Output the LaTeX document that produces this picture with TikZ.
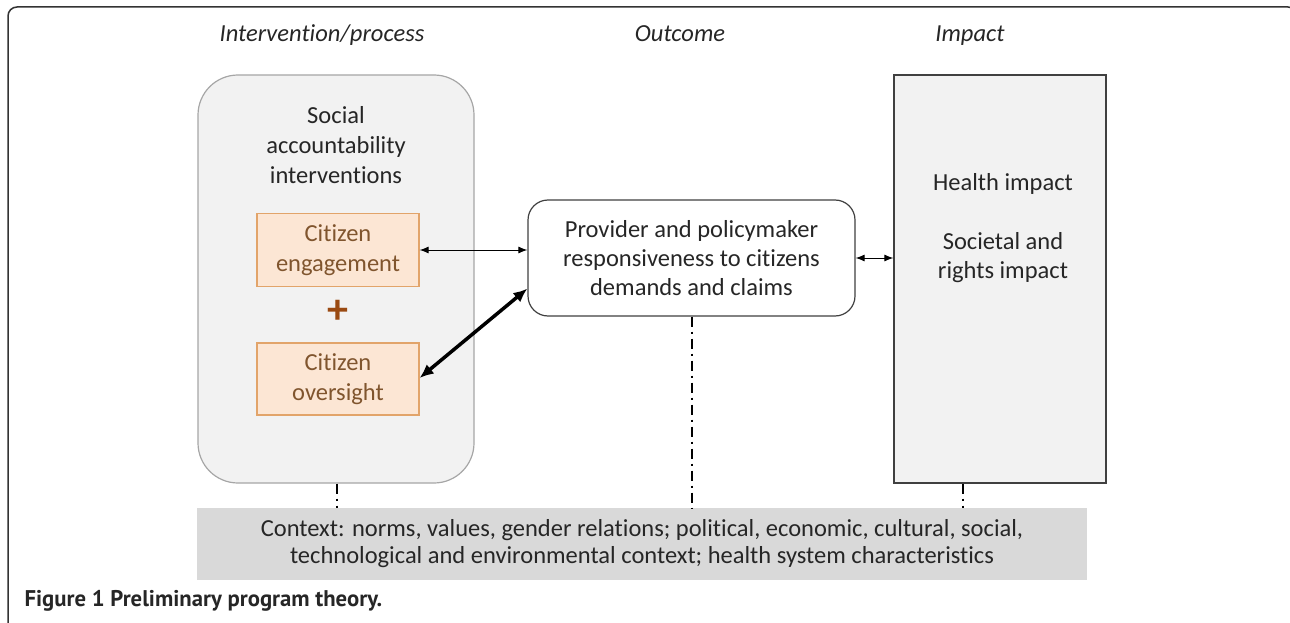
\documentclass[tikz,border=0pt]{standalone}
\usepackage{fontspec}
\setmainfont[Ligatures=NoCommon]{Carlito}
\newfontfamily\condfont[Ligatures=NoCommon]{Carlito}
\newfontfamily\capfont{PT Sans}
\usetikzlibrary{positioning,calc,arrows.meta}
\definecolor{panelgray}{HTML}{F2F2F2}
\definecolor{contextgray}{HTML}{D9D9D9}
\definecolor{peachfill}{HTML}{FCE6D4}
\definecolor{peachline}{HTML}{E2A46A}
\definecolor{browntext}{HTML}{80552E}
\definecolor{plusbrown}{HTML}{9A4A12}
\definecolor{inktext}{HTML}{262626}
\tikzset{
% Boxes of the three columns
column box/.style={draw=#1,line width=1.2pt,fill=panelgray,minimum width=212pt,minimum height=408pt},
process box/.style={column box=gray!70,rounded corners=40pt,minimum width=276pt},
impact box/.style={column box=black!75},
outcome box/.style={draw=black!75,line width=1.2pt,fill=white,rounded corners=20pt,
  minimum width=327pt,minimum height=116pt,align=center,text=inktext},
% Orange boxes inside the process column
citizen box/.style={draw=peachline,line width=1.2pt,fill=peachfill,text=browntext,
  minimum width=162pt,minimum height=73pt,align=center},
column head/.style={anchor=base,font=\fontsize{24.5}{30}\selectfont\itshape,text=inktext},
% Connectors
link/.style={{Latex[length=9pt,width=7pt]}-{Latex[length=9pt,width=7pt]},line width=1pt},
strong link/.style={{Latex[length=14pt,width=12pt]}-{Latex[length=14pt,width=12pt]},line width=3.5pt},
context link/.style={line width=2pt,dash pattern=on 10pt off 5pt on 2pt off 5pt}
}
\begin{document}
\begin{tikzpicture}[x=1pt,y=1pt,font=\fontsize{24.5}{30}\selectfont]
  \useasboundingbox (0,0) rectangle (1290,-623);
  % Figure frame (top and left edges only)
  \draw[black!80,line width=1.5pt,rounded corners=9pt] (8,-630) -- (8,-7) -- (1297,-7) -- (1297,-630);
  % Column headings
  \node[column head] (head proc) at (322,-42) {Intervention/process};
  \node[column head] (head out) at (680,-42) {Outcome};
  \node[column head] (head imp) at (970,-42) {Impact};
  % Process column
  \node[process box] (process) at (336,-279) {};
  \node[align=center,text=inktext] (process title) at (336,-145)
    {Social\\accountability\\interventions};
  \node[citizen box] (engage) at (338,-250) {Citizen\\engagement};
  \node[citizen box,minimum height=72pt] (oversight) at (338,-379) {Citizen\\oversight};
  \node[font=\fontsize{42}{42}\selectfont\bfseries,text=plusbrown,inner sep=0pt]
    (plus) at ($(engage.south)!0.45!(oversight.north)$) {+};
  % Outcome
  \node[outcome box,font=\fontsize{24.5}{29}\selectfont] (outcome) at (691.5,-258)
    {Provider and policymaker\\responsiveness to citizens\\demands and claims};
  % Impact column
  \node[impact box] (impact) at (1000,-279) {};
  \node[align=center,text=inktext,font=\fontsize{24.5}{29}\selectfont] (impact text) at (1003,-228)
    {Health impact\\[30pt]Societal and\\rights impact};
  % Context band
  \node[fill=contextgray,minimum width=890pt,minimum height=72pt,align=center,
    text=inktext,font=\condfont\fontsize{24.5}{27}\selectfont] (context) at (642,-544)
    {Context: norms, values, gender relations; political, economic, cultural, social,\\
     technological and environmental context; health system characteristics};
  % Links between the columns
  \draw[link] (engage.east) -- (engage.east -| outcome.west);
  \draw[strong link] ($(oversight.east)+(0,1)$) -- ($(outcome.south west)+(0,28)$);
  \draw[link] (outcome.east) -- (outcome.east -| impact.west);
  % Context under every column
  \draw[context link] (process.south) ++(1,0) coordinate (proc foot) -- (proc foot |- context.north);
  \draw[context link] (outcome.south) -- (outcome.south |- context.north);
  \draw[context link] (impact.south) ++(-37,0) coordinate (imp foot) -- (imp foot |- context.north);
  % Caption
  \node[anchor=west,font=\capfont\bfseries\fontsize{22.7}{24}\selectfont,text=inktext] (caption)
    at (21,-601) {Figure 1 Preliminary program theory.};
\end{tikzpicture}
\end{document}
